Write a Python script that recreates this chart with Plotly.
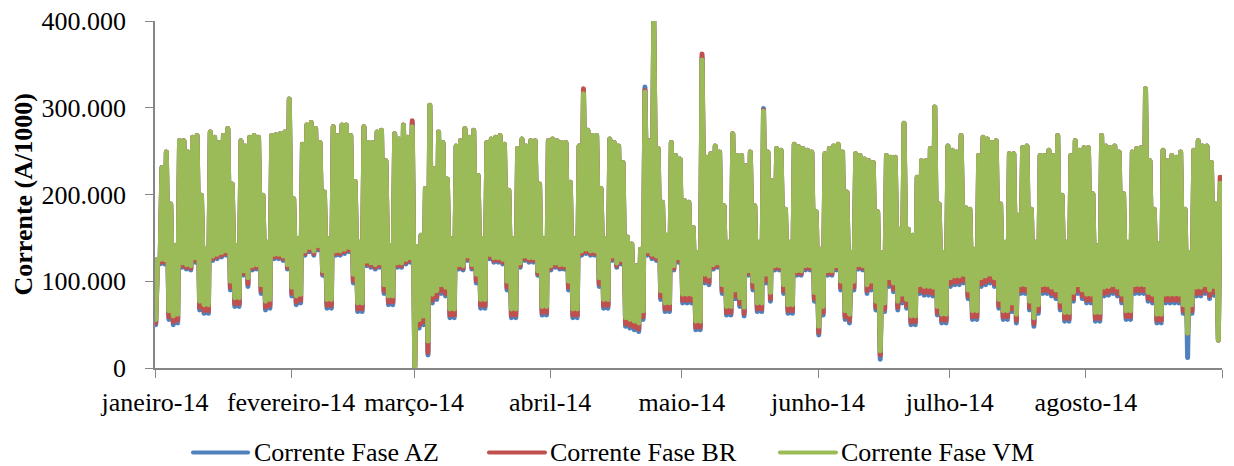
import pandas as pd
import plotly.graph_objects as go

# Corrente diária por fase (A/1000): máximo (pico) e mínimo (vale) de cada dia,
# de 1 de janeiro a 31 de agosto de 2014.
inicio = "2014-01-01"

pico_vm = [
    125000, 231000, 249000, 189000, 141000, 262000, 262000, 249000, 266000, 268000,
    199000, 137000, 272000, 266000, 260000, 268000, 276000, 212000, 141000, 262000,
    256000, 266000, 268000, 266000, 199000, 145000, 268000, 269000, 270000, 272000,
    310000, 195000, 149000, 258000, 280000, 283000, 276000, 260000, 203000, 149000,
    278000, 268000, 280000, 280000, 268000, 215000, 145000, 278000, 260000, 260000,
    272000, 274000, 239000, 141000, 270000, 264000, 280000, 266000, 278000, 140000,
    153000, 207000, 303000, 230000, 272000, 260000, 218000, 149000, 256000, 262000,
    276000, 266000, 274000, 222000, 149000, 260000, 264000, 266000, 268000, 258000,
    205000, 149000, 253000, 264000, 256000, 262000, 262000, 212000, 149000, 262000,
    264000, 262000, 260000, 260000, 214000, 149000, 256000, 316000, 274000, 268000,
    268000, 207000, 149000, 264000, 260000, 256000, 237000, 151000, 143000, 118000,
    137000, 318000, 262000, 405000, 253000, 191000, 153000, 260000, 245000, 241000,
    193000, 191000, 162000, 133000, 355000, 243000, 247000, 256000, 249000, 187000,
    145000, 270000, 245000, 245000, 233000, 249000, 187000, 145000, 296000, 249000,
    216000, 253000, 251000, 183000, 145000, 258000, 255000, 253000, 251000, 249000,
    180000, 137000, 247000, 253000, 256000, 258000, 249000, 203000, 133000, 247000,
    245000, 241000, 239000, 237000, 180000, 133000, 245000, 243000, 243000, 160000,
    282000, 160000, 153000, 220000, 239000, 239000, 253000, 301000, 189000, 133000,
    256000, 251000, 249000, 268000, 185000, 183000, 137000, 245000, 266000, 264000,
    260000, 262000, 189000, 145000, 247000, 247000, 176000, 254000, 256000, 183000,
    145000, 245000, 245000, 251000, 245000, 268000, 199000, 145000, 245000, 262000,
    251000, 254000, 254000, 201000, 141000, 268000, 256000, 254000, 256000, 249000,
    201000, 145000, 249000, 253000, 254000, 322000, 239000, 183000, 143000, 251000,
    239000, 245000, 243000, 249000, 183000, 133000, 251000, 262000, 256000, 256000,
    237000, 189000, 213000,
]

vale_vm = [
    56000, 125000, 125000, 66000, 60000, 62000, 121000, 119000, 118000, 127000,
    77000, 73000, 73000, 129000, 131000, 133000, 135000, 100000, 81000, 81000,
    112000, 104000, 118000, 119000, 96000, 77000, 79000, 131000, 131000, 129000,
    119000, 93000, 83000, 85000, 135000, 139000, 135000, 141000, 112000, 79000,
    79000, 135000, 135000, 137000, 139000, 108000, 75000, 75000, 123000, 121000,
    119000, 121000, 96000, 83000, 83000, 121000, 121000, 125000, 127000, 2000,
    56000, 60000, 31000, 85000, 89000, 96000, 93000, 68000, 68000, 119000,
    118000, 129000, 119000, 108000, 79000, 79000, 131000, 127000, 127000, 125000,
    100000, 68000, 68000, 121000, 129000, 127000, 127000, 112000, 71000, 71000,
    118000, 121000, 119000, 119000, 100000, 68000, 68000, 135000, 137000, 135000,
    135000, 104000, 79000, 79000, 129000, 121000, 125000, 58000, 56000, 54000,
    52000, 66000, 135000, 131000, 129000, 89000, 75000, 75000, 118000, 127000,
    85000, 85000, 85000, 54000, 54000, 108000, 106000, 119000, 121000, 96000,
    71000, 71000, 90000, 81000, 70000, 112000, 100000, 75000, 75000, 108000,
    87000, 118000, 118000, 96000, 73000, 73000, 112000, 112000, 118000, 118000,
    87000, 48000, 71000, 112000, 112000, 118000, 100000, 66000, 62000, 100000,
    119000, 118000, 96000, 100000, 77000, 20000, 75000, 104000, 98000, 77000,
    85000, 79000, 60000, 60000, 96000, 94000, 94000, 93000, 71000, 62000,
    62000, 104000, 106000, 106000, 108000, 90000, 66000, 66000, 104000, 106000,
    108000, 104000, 79000, 66000, 66000, 75000, 62000, 96000, 96000, 77000,
    58000, 73000, 96000, 96000, 93000, 90000, 77000, 64000, 64000, 87000,
    96000, 90000, 85000, 85000, 64000, 64000, 93000, 94000, 96000, 93000,
    85000, 66000, 66000, 96000, 96000, 96000, 87000, 85000, 62000, 62000,
    85000, 85000, 85000, 85000, 73000, 40000, 73000, 93000, 93000, 96000,
    90000, 94000, 32000,
]

pico_br = [
    125000, 231000, 249000, 189000, 141000, 262000, 262000, 249000, 266000, 268000,
    199000, 137000, 272000, 266000, 260000, 268000, 276000, 212000, 141000, 262000,
    256000, 266000, 268000, 266000, 199000, 145000, 268000, 269000, 270000, 272000,
    310000, 195000, 149000, 258000, 280000, 283000, 276000, 260000, 203000, 149000,
    278000, 268000, 280000, 280000, 268000, 215000, 145000, 278000, 260000, 260000,
    272000, 274000, 239000, 141000, 270000, 264000, 280000, 266000, 285000, 140000,
    153000, 207000, 303000, 230000, 272000, 260000, 218000, 149000, 256000, 262000,
    276000, 266000, 274000, 222000, 149000, 260000, 264000, 266000, 268000, 258000,
    205000, 149000, 253000, 264000, 256000, 262000, 262000, 212000, 149000, 262000,
    264000, 262000, 260000, 260000, 214000, 149000, 256000, 322000, 274000, 268000,
    268000, 207000, 149000, 264000, 260000, 256000, 237000, 151000, 143000, 118000,
    137000, 320000, 262000, 405000, 253000, 191000, 153000, 260000, 245000, 241000,
    193000, 191000, 162000, 133000, 362000, 243000, 247000, 256000, 249000, 187000,
    145000, 270000, 245000, 245000, 233000, 249000, 187000, 145000, 297000, 249000,
    216000, 253000, 251000, 183000, 145000, 258000, 255000, 253000, 251000, 249000,
    180000, 137000, 247000, 253000, 256000, 258000, 249000, 203000, 133000, 247000,
    245000, 241000, 239000, 237000, 180000, 133000, 245000, 243000, 243000, 160000,
    282000, 160000, 153000, 220000, 239000, 239000, 253000, 301000, 189000, 133000,
    256000, 251000, 249000, 268000, 185000, 183000, 137000, 245000, 266000, 264000,
    260000, 262000, 189000, 145000, 247000, 247000, 176000, 254000, 256000, 183000,
    145000, 245000, 245000, 251000, 245000, 268000, 199000, 145000, 245000, 262000,
    251000, 254000, 254000, 201000, 141000, 268000, 256000, 254000, 256000, 249000,
    201000, 145000, 249000, 253000, 254000, 322000, 239000, 183000, 143000, 251000,
    239000, 245000, 243000, 249000, 183000, 133000, 251000, 262000, 256000, 256000,
    237000, 189000, 220000,
]

vale_br = [
    52000, 122000, 122000, 59000, 53000, 55000, 118000, 116000, 115000, 124000,
    70000, 66000, 66000, 126000, 128000, 130000, 132000, 93000, 74000, 74000,
    109000, 97000, 115000, 116000, 89000, 70000, 72000, 128000, 128000, 126000,
    116000, 86000, 76000, 78000, 132000, 136000, 132000, 138000, 109000, 72000,
    72000, 132000, 132000, 134000, 136000, 101000, 68000, 68000, 120000, 118000,
    116000, 118000, 89000, 76000, 76000, 118000, 118000, 122000, 124000, 2000,
    49000, 53000, 18000, 78000, 82000, 89000, 86000, 61000, 61000, 116000,
    115000, 126000, 116000, 101000, 72000, 72000, 128000, 124000, 124000, 122000,
    93000, 61000, 61000, 118000, 126000, 124000, 124000, 109000, 64000, 64000,
    115000, 118000, 116000, 116000, 93000, 61000, 61000, 132000, 134000, 132000,
    132000, 97000, 72000, 72000, 126000, 118000, 122000, 51000, 49000, 47000,
    45000, 59000, 132000, 128000, 126000, 82000, 68000, 68000, 115000, 124000,
    78000, 78000, 78000, 47000, 47000, 101000, 99000, 116000, 118000, 89000,
    64000, 64000, 83000, 74000, 63000, 109000, 93000, 68000, 68000, 101000,
    80000, 115000, 115000, 89000, 66000, 66000, 109000, 109000, 115000, 115000,
    80000, 41000, 64000, 109000, 109000, 115000, 93000, 59000, 55000, 93000,
    116000, 115000, 89000, 93000, 70000, 15000, 68000, 97000, 91000, 70000,
    78000, 72000, 53000, 53000, 89000, 87000, 87000, 86000, 64000, 55000,
    55000, 97000, 99000, 99000, 101000, 83000, 59000, 59000, 97000, 99000,
    101000, 97000, 72000, 59000, 59000, 68000, 55000, 89000, 89000, 70000,
    51000, 66000, 89000, 89000, 86000, 83000, 70000, 57000, 57000, 80000,
    89000, 83000, 78000, 78000, 57000, 57000, 86000, 87000, 89000, 86000,
    78000, 59000, 59000, 89000, 89000, 89000, 80000, 78000, 55000, 55000,
    78000, 78000, 78000, 78000, 66000, 40000, 66000, 86000, 86000, 89000,
    83000, 87000, 32000,
]

pico_az = [
    125000, 231000, 249000, 189000, 141000, 262000, 262000, 249000, 266000, 268000,
    199000, 137000, 272000, 266000, 260000, 268000, 276000, 212000, 141000, 262000,
    256000, 266000, 268000, 266000, 199000, 145000, 268000, 269000, 270000, 272000,
    310000, 195000, 149000, 258000, 280000, 283000, 276000, 260000, 203000, 149000,
    278000, 268000, 280000, 280000, 268000, 215000, 145000, 278000, 260000, 260000,
    272000, 274000, 239000, 141000, 270000, 264000, 280000, 266000, 282000, 140000,
    153000, 207000, 303000, 230000, 272000, 260000, 218000, 149000, 256000, 262000,
    276000, 266000, 274000, 222000, 149000, 260000, 264000, 266000, 268000, 258000,
    205000, 149000, 253000, 264000, 256000, 262000, 262000, 212000, 149000, 262000,
    264000, 262000, 260000, 260000, 214000, 149000, 256000, 318000, 274000, 268000,
    268000, 207000, 149000, 264000, 260000, 256000, 237000, 151000, 143000, 118000,
    137000, 324000, 262000, 405000, 253000, 191000, 153000, 260000, 245000, 241000,
    193000, 191000, 162000, 133000, 358000, 243000, 247000, 256000, 249000, 187000,
    145000, 270000, 245000, 245000, 233000, 249000, 187000, 145000, 299000, 249000,
    216000, 253000, 251000, 183000, 145000, 258000, 255000, 253000, 251000, 249000,
    180000, 137000, 247000, 253000, 256000, 258000, 249000, 203000, 133000, 247000,
    245000, 241000, 239000, 237000, 180000, 133000, 245000, 243000, 243000, 160000,
    282000, 160000, 153000, 220000, 239000, 239000, 253000, 301000, 189000, 133000,
    256000, 251000, 249000, 268000, 185000, 183000, 137000, 245000, 266000, 264000,
    260000, 262000, 189000, 145000, 247000, 247000, 176000, 254000, 256000, 183000,
    145000, 245000, 245000, 251000, 245000, 268000, 199000, 145000, 245000, 262000,
    251000, 254000, 254000, 201000, 141000, 268000, 256000, 254000, 256000, 249000,
    201000, 145000, 249000, 253000, 254000, 322000, 239000, 183000, 143000, 251000,
    239000, 245000, 243000, 249000, 183000, 133000, 251000, 262000, 256000, 256000,
    237000, 189000, 205000,
]

vale_az = [
    50000, 120000, 120000, 56000, 50000, 52000, 116000, 114000, 113000, 122000,
    67000, 63000, 63000, 124000, 126000, 128000, 130000, 90000, 71000, 71000,
    107000, 94000, 113000, 114000, 86000, 67000, 69000, 126000, 126000, 124000,
    114000, 83000, 73000, 75000, 130000, 134000, 130000, 136000, 107000, 69000,
    69000, 130000, 130000, 132000, 134000, 98000, 65000, 65000, 118000, 116000,
    114000, 116000, 86000, 73000, 73000, 116000, 116000, 120000, 122000, 1000,
    46000, 50000, 15000, 75000, 79000, 86000, 83000, 58000, 58000, 114000,
    113000, 124000, 114000, 98000, 69000, 69000, 126000, 122000, 122000, 120000,
    90000, 58000, 58000, 116000, 124000, 122000, 122000, 107000, 61000, 61000,
    113000, 116000, 114000, 114000, 90000, 58000, 58000, 130000, 132000, 130000,
    130000, 94000, 69000, 69000, 124000, 116000, 120000, 48000, 46000, 44000,
    42000, 56000, 130000, 126000, 124000, 79000, 65000, 65000, 113000, 122000,
    75000, 75000, 75000, 44000, 44000, 98000, 96000, 114000, 116000, 86000,
    61000, 61000, 80000, 71000, 60000, 107000, 90000, 65000, 65000, 98000,
    77000, 113000, 113000, 86000, 63000, 63000, 107000, 107000, 113000, 113000,
    77000, 38000, 61000, 107000, 107000, 113000, 90000, 56000, 52000, 90000,
    114000, 113000, 86000, 90000, 67000, 10000, 65000, 94000, 88000, 67000,
    75000, 69000, 50000, 50000, 86000, 84000, 84000, 83000, 61000, 52000,
    52000, 94000, 96000, 96000, 98000, 80000, 56000, 56000, 94000, 96000,
    98000, 94000, 69000, 56000, 56000, 65000, 52000, 86000, 86000, 67000,
    48000, 63000, 86000, 86000, 83000, 80000, 67000, 54000, 54000, 77000,
    86000, 80000, 75000, 75000, 54000, 54000, 83000, 84000, 86000, 83000,
    75000, 56000, 56000, 86000, 86000, 86000, 77000, 75000, 52000, 52000,
    75000, 75000, 75000, 75000, 63000, 12000, 63000, 83000, 83000, 86000,
    80000, 84000, 32000,
]

meses = ["2014-01-01", "2014-02-01", "2014-03-01", "2014-04-01", "2014-05-01",
         "2014-06-01", "2014-07-01", "2014-08-01", "2014-09-01"]
rotulos_meses = ["janeiro-14", "fevereiro-14", "março-14", "abril-14", "maio-14",
                 "junho-14", "julho-14", "agosto-14", ""]
valores_y = [0, 100000, 200000, 300000, 400000]

series = [
    ("Corrente Fase AZ", pico_az, vale_az, "#4F81BD"),
    ("Corrente Fase BR", pico_br, vale_br, "#C0504D"),
    ("Corrente Fase VM", pico_vm, vale_vm, "#9BBB59"),
]

# Hora típica do mínimo noturno e do máximo diurno
HORA_VALE = 4
HORA_PICO = 14

dias = pd.date_range(inicio, periods=len(pico_vm), freq="D")


def montar(pico, vale):
    xs, ys = [], []
    for dia, p, v in zip(dias, pico, vale):
        xs.append(dia + pd.Timedelta(hours=HORA_VALE))
        ys.append(v)
        xs.append(dia + pd.Timedelta(hours=HORA_PICO))
        ys.append(p)
    return xs, ys


FONTE = "Liberation Serif, Times New Roman, serif"
CINZA = "#868686"

fig = go.Figure()
for nome, pico, vale, cor in series:
    xs, ys = montar(pico, vale)
    fig.add_trace(go.Scatter(
        x=xs, y=ys, mode="lines", name=nome,
        line=dict(color=cor, width=5, simplify=False),
        showlegend=False, hoverinfo="skip",
    ))

# Legenda desenhada abaixo do eixo: traço colorido + texto
legenda_y = -0.2435
legenda_pos = [(0.0356, 0.0872, 0.0905), (0.3130, 0.3655, 0.3680), (0.5857, 0.6382, 0.6415)]
for (nome, _, _, cor), (x0, x1, xt) in zip(series, legenda_pos):
    fig.add_shape(type="line", xref="paper", yref="paper", x0=x0, x1=x1,
                  y0=legenda_y, y1=legenda_y, line=dict(color=cor, width=4))
    fig.add_annotation(xref="paper", yref="paper", x=xt, y=legenda_y,
                       xanchor="left", yanchor="middle", showarrow=False,
                       text=nome, font=dict(family=FONTE, size=26, color="black"))

# Título do eixo vertical
fig.add_annotation(xref="paper", yref="paper", x=0, y=0.5, xshift=-132,
                   xanchor="center", yanchor="middle", textangle=-90,
                   showarrow=False, text="<b>Corrente (A/1000)</b>",
                   font=dict(family=FONTE, size=26, color="black"))

fig.update_layout(
    width=1234, height=466,
    margin=dict(l=155, r=12, t=21, b=98, autoexpand=False),
    paper_bgcolor="white", plot_bgcolor="white",
    font=dict(family=FONTE, size=26, color="black"),
    separators=",.",
    showlegend=False,
    xaxis=dict(
        type="date", range=["2014-01-01", "2014-09-01"],
        tickmode="array", tickvals=meses, ticktext=rotulos_meses,
        ticks="outside", ticklen=8, tickwidth=1, tickcolor=CINZA,
        showline=True, linecolor=CINZA, linewidth=1.5,
        showgrid=False, zeroline=False, tickangle=0,
        ticklabelstandoff=2, automargin=False,
    ),
    yaxis=dict(
        range=[0, 400000], tickmode="array", tickvals=valores_y,
        tickformat=",d",
        ticks="outside", ticklen=8, tickwidth=1, tickcolor=CINZA,
        showline=True, linecolor=CINZA, linewidth=1.5,
        showgrid=False, zeroline=False,
        ticklabelstandoff=14, automargin=False,
    ),
)

# Cantos e pontas arredondados nos traços das séries e da legenda
arredondar = """
document.querySelectorAll('.scatterlayer .js-line, .layer-above .shapelayer path')
  .forEach(function (p) {
    p.style.strokeLinejoin = 'round';
    p.style.strokeLinecap = 'round';
  });
"""

fig.write_html("out.html", post_script=arredondar)
